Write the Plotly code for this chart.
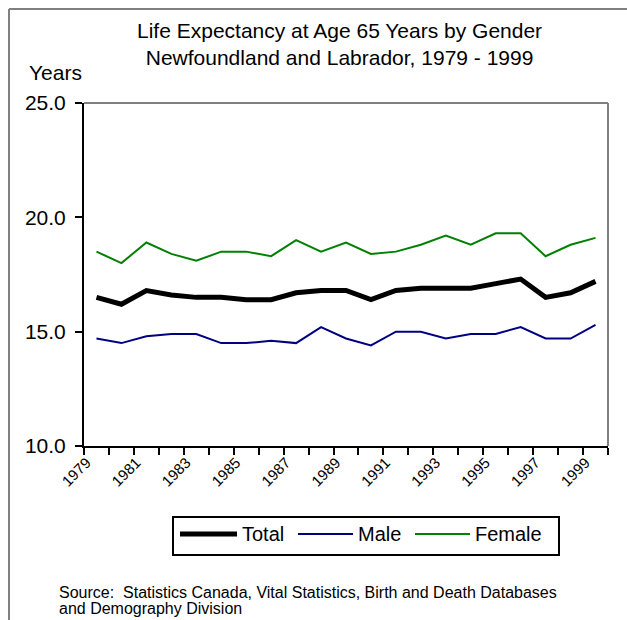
"""
Life expectancy at age 65 by gender, Newfoundland and Labrador 1979-1999.
"""
import plotly.graph_objects as go

# ── DATA ──
years = [str(y) for y in range(1979, 2000)]
total = [16.5, 16.2, 16.8, 16.6, 16.5, 16.5, 16.4, 16.4, 16.7, 16.8, 16.8,
         16.4, 16.8, 16.9, 16.9, 16.9, 17.1, 17.3, 16.5, 16.7, 17.2]
male = [14.7, 14.5, 14.8, 14.9, 14.9, 14.5, 14.5, 14.6, 14.5, 15.2, 14.7,
        14.4, 15.0, 15.0, 14.7, 14.9, 14.9, 15.2, 14.7, 14.7, 15.3]
female = [18.5, 18.0, 18.9, 18.4, 18.1, 18.5, 18.5, 18.3, 19.0, 18.5, 18.9,
          18.4, 18.5, 18.8, 19.2, 18.8, 19.3, 19.3, 18.3, 18.8, 19.1]
tick_labels = [y if i % 2 == 0 else "" for i, y in enumerate(years)]
y_ticks = [10, 15, 20, 25]

FONT = "Arial, Liberation Sans, sans-serif"
GREY = "#808080"

# canvas + plot area in pixels
W, H = 627, 620
L, R, T, B = 84, 19, 103, 174
PW, PH = W - L - R, H - T - B


def px(x):
    return (x - L) / PW


def py(y):
    return (H - B - y) / PH


series = [
    ("Total", total, "black", 5),
    ("Male", male, "#000080", 2),
    ("Female", female, "#008000", 2),
]

fig = go.Figure()
for name, vals, color, width in series:
    fig.add_trace(go.Scatter(
        x=years, y=vals, name=name, mode="lines",
        line=dict(color=color, width=width),
        showlegend=False
    ))

fig.update_xaxes(
    type="category", range=[-0.5, len(years) - 0.5],
    tickmode="array", tickvals=years, ticktext=tick_labels,
    tickson="boundaries", ticks="outside", ticklen=7, tickwidth=2, tickcolor="black",
    tickangle=-45, tickfont=dict(size=15, color="black", family=FONT),
    ticklabelshift=-10,
    showline=True, linecolor="black", linewidth=2, showgrid=False
)
fig.update_yaxes(
    range=[10, 25], tickmode="array", tickvals=y_ticks, tickformat=".1f",
    ticks="outside", ticklen=7, tickwidth=2, tickcolor="black",
    tickfont=dict(size=21, color="black", family=FONT), ticklabelstandoff=5,
    showline=True, linecolor="black", linewidth=2, showgrid=False, zeroline=False
)

shapes = [
    # grey top/right edge of the plot area
    dict(type="line", xref="paper", yref="paper", x0=0, x1=1, y0=1, y1=1,
         line=dict(color=GREY, width=2)),
    dict(type="line", xref="paper", yref="paper", x0=1, x1=1, y0=0, y1=1,
         line=dict(color=GREY, width=2)),
    # outer chart frame (cut off at right / bottom)
    dict(type="line", xref="paper", yref="paper", x0=px(9), x1=px(9), y0=py(9), y1=py(630),
         line=dict(color=GREY, width=2)),
    dict(type="line", xref="paper", yref="paper", x0=px(9), x1=px(640), y0=py(9), y1=py(9),
         line=dict(color=GREY, width=2)),
    # legend box
    dict(type="rect", xref="paper", yref="paper", x0=px(173), x1=px(559), y0=py(517), y1=py(555),
         line=dict(color="black", width=2), fillcolor="white"),
]

annotations = [
    dict(text="Life Expectancy at Age 65 Years by Gender<br>Newfoundland and Labrador, 1979 - 1999",
         xref="paper", yref="paper", x=px(339.5), y=py(44), xanchor="center", yanchor="middle",
         showarrow=False, font=dict(size=21, color="black", family=FONT)),
    dict(text="Years", xref="paper", yref="paper", x=px(27), y=py(72),
         xanchor="left", yanchor="middle", showarrow=False,
         font=dict(size=21, color="black", family=FONT)),
    dict(text="Source:\u00a0 Statistics Canada, Vital Statistics, Birth and Death Databases",
         xref="paper", yref="paper", x=px(57), y=py(592), xanchor="left", yanchor="middle",
         showarrow=False, font=dict(size=16, color="black", family=FONT)),
    dict(text="and Demography Division",
         xref="paper", yref="paper", x=px(57), y=py(608), xanchor="left", yanchor="middle",
         showarrow=False, font=dict(size=16, color="black", family=FONT)),
]

# legend keys drawn by hand (long sample lines, like the original)
legend_x = [(180, 237), (298, 353), (415, 470)]
legend_y = 534
for (name, _, color, width), (x0, x1) in zip(series, legend_x):
    shapes.append(dict(type="line", xref="paper", yref="paper",
                       x0=px(x0), x1=px(x1), y0=py(legend_y), y1=py(legend_y),
                       line=dict(color=color, width=width)))
    annotations.append(dict(text=name, xref="paper", yref="paper", x=px(x1 + 3), y=py(legend_y),
                            xanchor="left", yanchor="middle", showarrow=False,
                            font=dict(size=20, color="black", family=FONT)))

fig.update_layout(
    width=W, height=H,
    margin=dict(l=L, r=R, t=T, b=B),
    paper_bgcolor="white", plot_bgcolor="white",
    font=dict(family=FONT, color="black"),
    shapes=shapes, annotations=annotations,
    showlegend=False
)

# drop the page's default body margin so the figure sits at the window origin
fig.write_html("out.html", config={"displayModeBar": False},
               post_script="document.body.style.margin='0';")
